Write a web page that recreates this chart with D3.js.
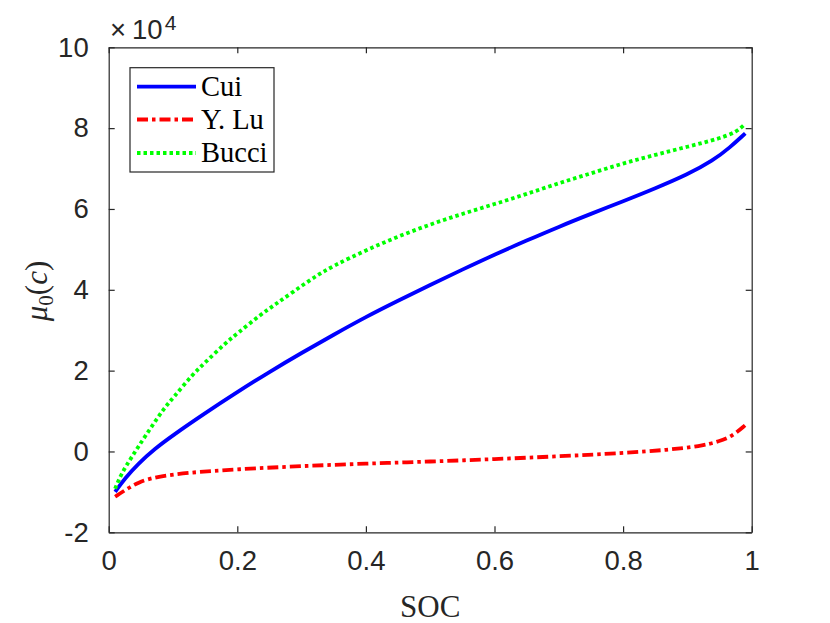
<!DOCTYPE html>
<html><head><meta charset="utf-8">
<script src="https://cdn.jsdelivr.net/npm/d3@7"></script>
<style>body{margin:0;background:#fff;} svg{display:block;}</style>
</head><body>
<svg id="c" width="830" height="623"></svg>
<script>
// Data (values in units of 1e4)
const seriesNames = ["Cui", "Y. Lu", "Bucci"];
const cuiX = [0.01,0.025,0.046,0.072,0.098,0.15,0.2,0.25,0.3,0.35,0.4,0.45,0.5,0.55,0.6,0.65,0.7,0.75,0.8,0.85,0.9,0.94,0.966,0.99];
const cuiY = [-1.0,-0.67,-0.30,0.07,0.38,0.95,1.47,1.97,2.44,2.89,3.33,3.73,4.12,4.50,4.87,5.22,5.56,5.88,6.19,6.51,6.85,7.2,7.52,7.87];
const luX = [0.01,0.025,0.046,0.072,0.124,0.2,0.3,0.4,0.5,0.6,0.7,0.8,0.87,0.92,0.95,0.97,0.99];
const luY = [-1.12,-0.96,-0.76,-0.63,-0.52,-0.44,-0.36,-0.30,-0.25,-0.19,-0.12,-0.04,0.04,0.13,0.25,0.38,0.65];
const bucciX = [0.01,0.02,0.036,0.056,0.085,0.1,0.13,0.15,0.18,0.2,0.235,0.26,0.287,0.32,0.35,0.4,0.45,0.5,0.55,0.6,0.65,0.7,0.75,0.8,0.85,0.9,0.95,0.977,0.99];
const bucciY = [-0.92,-0.54,-0.13,0.36,1.05,1.32,1.90,2.20,2.66,2.92,3.37,3.65,3.95,4.32,4.60,4.98,5.32,5.62,5.88,6.12,6.37,6.64,6.88,7.13,7.34,7.54,7.74,7.91,8.11];
const xTicks = [0,0.2,0.4,0.6,0.8,1];
const yTicks = [-2,0,2,4,6,8,10];

const svg = d3.select("#c");
const L = 108.7, R = 751.7, T = 47.3, B = 532.3;
const x = d3.scaleLinear().domain([0,1]).range([L,R]);
const y = d3.scaleLinear().domain([-2,10]).range([B,T]);
const axisCol = "#262626";
const sans = "'Liberation Sans', Arial, Helvetica, sans-serif";
const serif = "'Liberation Serif', 'Times New Roman', serif";

svg.append("rect").attr("x",L).attr("y",T).attr("width",R-L).attr("height",B-T).attr("fill","#fff");

// series
const styles = [
  {xs:cuiX, ys:cuiY, color:"#0000ff", dash:null, w:3.8},
  {xs:luX, ys:luY, color:"#ff0000", dash:"11,4,3.5,4", w:3.8},
  {xs:bucciX, ys:bucciY, color:"#00ff00", dash:"3.5,3", w:3.8}
];
const line = d3.line().x(d=>x(d[0])).y(d=>y(d[1])).curve(d3.curveBasis);
styles.forEach(s=>{
  const pts = s.xs.map((v,i)=>[v,s.ys[i]]);
  const p = svg.append("path").datum(pts).attr("d",line)
    .attr("fill","none").attr("stroke",s.color).attr("stroke-width",s.w);
  if(s.dash) p.attr("stroke-dasharray",s.dash);
});

// axes (box with inward ticks)
const tl = 6;
const xAxisB = d3.axisBottom(x).tickValues(xTicks).tickSizeInner(-tl).tickSizeOuter(0).tickPadding(18).tickFormat(d=>d3.format("")(d));
const xAxisT = d3.axisTop(x).tickValues(xTicks).tickSizeInner(-tl).tickSizeOuter(0).tickFormat("");
const yAxisL = d3.axisLeft(y).tickValues(yTicks).tickSizeInner(-tl).tickSizeOuter(0).tickPadding(20).tickFormat(d=>d);
const yAxisR = d3.axisRight(y).tickValues(yTicks).tickSizeInner(-tl).tickSizeOuter(0).tickFormat("");
function styleAxis(g){
  g.select(".domain").attr("stroke",axisCol).attr("stroke-width",1.2);
  g.selectAll(".tick line").attr("stroke",axisCol).attr("stroke-width",1.2);
  g.selectAll(".tick text").attr("fill",axisCol).attr("font-family",sans).attr("font-size",27.5);
}
svg.append("g").attr("transform",`translate(0,${B})`).call(xAxisB).call(styleAxis);
svg.append("g").attr("transform",`translate(0,${T})`).call(xAxisT).call(styleAxis);
svg.append("g").attr("transform",`translate(${L},0)`).call(yAxisL).call(styleAxis);
svg.append("g").attr("transform",`translate(${R},0)`).call(yAxisR).call(styleAxis);

// exponent label
const ex = svg.append("text").attr("x",110).attr("y",38.5).attr("font-family",sans).attr("font-size",27.5).attr("fill",axisCol);
ex.append("tspan").text("×");
ex.append("tspan").attr("dx",6).text("10");
ex.append("tspan").attr("dx",2).attr("dy",-8.5).attr("font-size",21).text("4");

// axis labels
svg.append("text").attr("x",(L+R)/2).attr("y",616.5).attr("text-anchor","middle")
  .attr("font-family",serif).attr("font-size",31).attr("fill",axisCol).text("SOC");
const yl = svg.append("text").attr("transform","translate(47,291) rotate(-90)").attr("text-anchor","middle")
  .attr("font-family",serif).attr("font-size",31).attr("fill",axisCol);
yl.append("tspan").attr("font-style","italic").text("μ");
yl.append("tspan").attr("font-size",21).attr("dy",6).text("0");
yl.append("tspan").attr("dy",-6).text("(");
yl.append("tspan").attr("font-style","italic").text("c");
yl.append("tspan").text(")");

// legend
const lg = svg.append("g");
lg.append("rect").attr("x",130).attr("y",67.7).attr("width",144).attr("height",104.3)
  .attr("fill","#fff").attr("stroke",axisCol).attr("stroke-width",1.2);
const rowsY = [86.7,119.5,153];
styles.forEach((s,i)=>{
  const l = lg.append("line").attr("x1",137).attr("x2",196).attr("y1",rowsY[i]).attr("y2",rowsY[i])
    .attr("stroke",s.color).attr("stroke-width",s.w);
  if(s.dash) l.attr("stroke-dasharray",s.dash);
  lg.append("text").attr("x",201).attr("y",rowsY[i]+9).attr("font-family",serif).attr("font-size",28.5)
    .attr("fill","#000").text(seriesNames[i]);
});
</script>
</body></html>
